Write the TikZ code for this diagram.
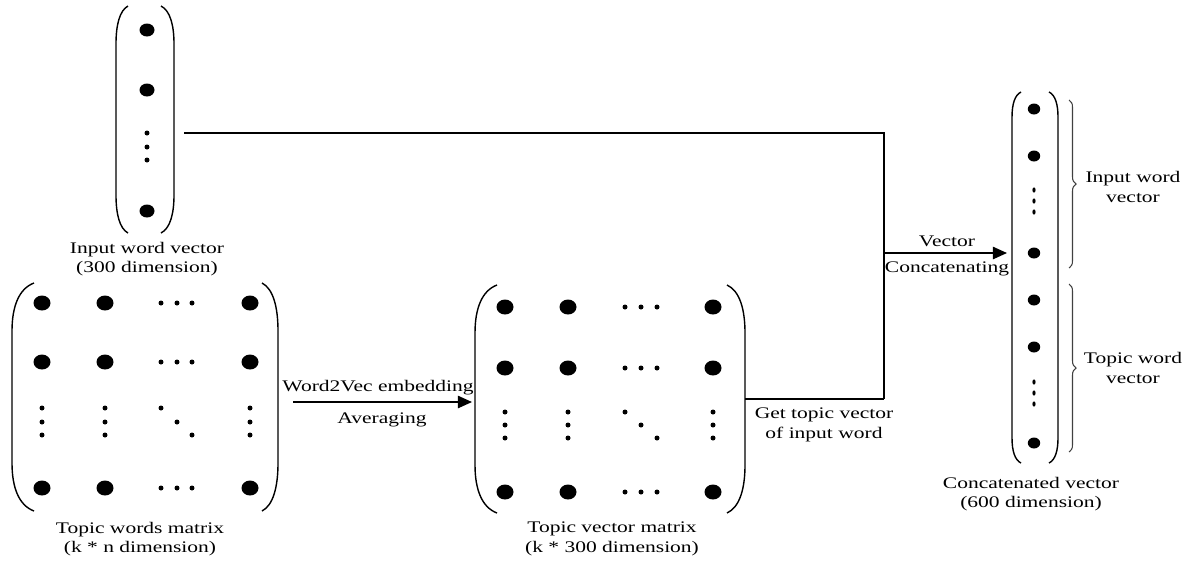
\documentclass[tikz,border=0pt]{standalone}
\usepackage{fontspec}
\setmainfont[FakeStretch=1.33]{Liberation Serif}
\usetikzlibrary{arrows.meta,fit,decorations.pathreplacing,calc}
\tikzset{
  paren/.style={line width=0.8pt},
  conn/.style={line width=0.9pt},
  arr/.style={line width=0.9pt,-{Triangle[length=8pt,width=7pt]}},
  region/.style={inner sep=0pt,outer sep=0pt},
  lbl/.style={inner sep=0pt,align=center},
  bracestyle/.style={line width=0.6pt,draw=black!75,decorate,decoration={brace,amplitude=0.14cm}},
}
% #1 xv, #2 xe, #3 yt, #4 yb, #5 d
\newcommand\MyParen[5]{%
  \draw[paren] (#2,#3) .. controls ({#1+0.3*(#2-#1)},{#3+0.12*#5}) and (#1,{#3+0.5*#5}) .. (#1,{#3+#5})
    -- (#1,{#4-#5}) .. controls (#1,{#4-0.5*#5}) and ({#1+0.3*(#2-#1)},{#4-0.12*#5}) .. (#2,#4);}
\newcommand\BigDot[3]{\fill (#1) ellipse [x radius=#2, y radius=#3];}
\newcommand\SmallDot[1]{\fill (#1) ellipse [x radius=2.5, y radius=2.5];}
\begin{document}
\begin{tikzpicture}[x=0.02cm,y=-0.02cm,font=\fontsize{9.2}{11}\selectfont]
\useasboundingbox (0,0) rectangle (1192,562);

% ---------- Input word vector ----------
\node[region,fit={(116,6) (174,233)}] (inv) {};
\MyParen{116}{128}{6}{233}{38}
\MyParen{174}{161}{6}{233}{38}
\BigDot{147,30}{7.5}{6.5}
\BigDot{147,90}{7.5}{6.5}
\BigDot{147,211}{7.5}{6.5}
\foreach \yy in {133,147,160} {\SmallDot{147,\yy}}
\node[lbl] (invlbl) at (147,259) {Input word vector\\(300 dimension)};

% ---------- Topic words matrix ----------
\node[region,fit={(12,283) (278,511)}] (twm) {};
\MyParen{12}{34}{283}{511}{48}
\MyParen{278}{262}{283}{511}{48}
\foreach \yy in {303,362,488} {
  \BigDot{42,\yy}{8.5}{7.5}
  \BigDot{105,\yy}{8.5}{7.5}
  \BigDot{250,\yy}{8.5}{7.5}
  \foreach \xx in {161,177,192} {\SmallDot{\xx,\yy}}
}
\foreach \xx in {42,105,250} {\foreach \yy in {408,422,435} {\SmallDot{\xx,\yy}}}
\SmallDot{161,408}\SmallDot{177,422}\SmallDot{192,435}
\node[lbl] (twmlbl) at (140,539) {Topic words matrix\\(k * n dimension)};

% ---------- Topic vector matrix ----------
\node[region,fit={(475,285) (745,513)}] (tvm) {};
\MyParen{475}{497}{285}{513}{48}
\MyParen{745}{727}{285}{513}{48}
\foreach \yy in {307,368,492} {
  \BigDot{505,\yy}{8.5}{7.5}
  \BigDot{568,\yy}{8.5}{7.5}
  \BigDot{713,\yy}{8.5}{7.5}
  \foreach \xx in {625,641,657} {\SmallDot{\xx,\yy}}
}
\foreach \xx in {505,568,713} {\foreach \yy in {412,425,438} {\SmallDot{\xx,\yy}}}
\SmallDot{625,412}\SmallDot{641,425}\SmallDot{657,438}
\node[lbl] (tvmlbl) at (612,539) {Topic vector matrix\\(k * 300 dimension)};

% ---------- Concatenated vector ----------
\node[region,fit={(1012,92) (1058,463)}] (cv) {};
\MyParen{1012}{1021}{92}{463}{25}
\MyParen{1058}{1049}{92}{463}{25}
\foreach \yy in {109,156,253,300,347,443} {\BigDot{1034,\yy}{6.2}{5.5}}
\foreach \yy in {190,201,212,382,393,404} {\fill (1034,\yy) ellipse [x radius=1.6, y radius=2.6];}
\node[lbl] (cvlbl) at (1031,494) {Concatenated vector\\(600 dimension)};

% braces
\draw[bracestyle] (1069,100) -- (1069,268);
\draw[bracestyle] (1069,284) -- (1069,452);
\node[lbl] (bl1) at (1133,187) {Input word\\vector};
\node[lbl] (bl2) at (1133,368) {Topic word\\vector};

% ---------- connectors ----------
\coordinate (jb) at (884,399);
\coordinate (jm) at (884,253);
\draw[arr] ([shift={(15,5)}]twm.east) -- ([shift={(-3,3)}]tvm.west);
\node[lbl,anchor=base] (w2v) at (378,391.7) {Word2Vec embedding};
\node[lbl,anchor=base] (avg) at (382,423.3) {Averaging};

\draw[conn] ([shift={(10,13.5)}]inv.east) -| (jb);
\draw[conn] (tvm.east) -- (jb);
\draw[arr,shorten >=0.1cm] (jm) -- (jm -| cv.west);
\node[lbl] (gtv) at (824,425) {Get topic vector\\of input word};
\node[lbl,anchor=base] (vec) at (947,246.7) {Vector};
\node[lbl,anchor=base] (cat) at (947,272.7) {Concatenating};
\end{tikzpicture}
\end{document}
